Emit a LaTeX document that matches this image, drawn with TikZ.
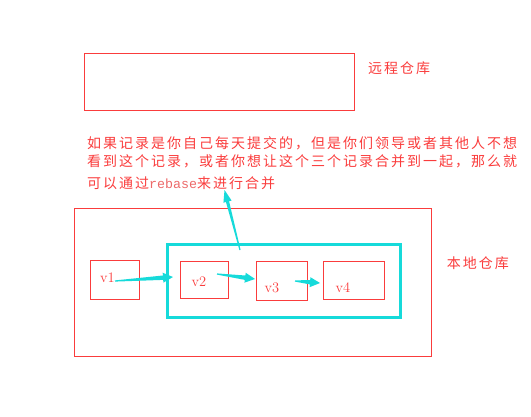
\documentclass[tikz,border=0pt]{standalone}
\usepackage{fontspec}
\newfontfamily\cjkfont[LetterSpace=14.29]{Noto Sans CJK SC}
\newfontfamily\monofont{Liberation Mono}
\usetikzlibrary{calc}
\definecolor{redc}{RGB}{250,60,60}
\definecolor{cyanc}{RGB}{22,218,218}
\definecolor{pinkc}{RGB}{236,105,105}
\newcommand\taperarrow[5]{% from, to, head length, head half width, shaft half width
  \path let \p1=(#1), \p2=(#2), \n1={atan2(\y2-\y1,\x2-\x1)}, \n2={veclen(\x2-\x1,\y2-\y1)} in
    \pgfextra{\xdef\tang{\n1}\xdef\tlen{\n2}};
  \begin{scope}[shift={(#1)},rotate=\tang]
    \fill[cyanc] (0,-0.6) -- (\tlen-#3,-#5) -- (\tlen-#3,-#4) -- (\tlen,0)
      -- (\tlen-#3,#4) -- (\tlen-#3,#5) -- (0,0.6) -- cycle;
  \end{scope}}
\begin{document}
\begin{tikzpicture}[x=1pt,y=-1pt,
  rbox/.style={draw=redc, line width=0.8pt, inner sep=0pt, outer sep=0pt},
  cbox/.style={draw=cyanc, line width=3pt, inner sep=0pt, outer sep=0pt},
  cjktext/.style={text=redc, font=\cjkfont\fontsize{14}{20}\selectfont, inner sep=0pt, anchor=base west},
  vlab/.style={text=redc, font=\fontsize{14.5}{16}\selectfont, inner sep=0pt}]
\useasboundingbox (0,0) rectangle (531,416);
% remote repository
\node[rbox, minimum width=270pt, minimum height=57pt] (remote) at (219,81.5) {};
\node[cjktext] (rlabel) at (368,73.3) {远程仓库};
% explanation text
\node[cjktext] (t1) at (87,148.3) {如果记录是你自己每天提交的，但是你们领导或者其他人不想};
\node[cjktext] (t2) at (87,166.8) {看到这个记录，或者你想让这个三个记录合并到一起，那么就};
\node[cjktext] (t3) at (87,188.3) {可以通过\textcolor{pinkc}{\monofont\fontsize{13.33}{16}\selectfont rebase}来进行合并};
% local repository
\node[rbox, minimum width=357pt, minimum height=148pt] (local) at (252.5,282) {};
\node[cjktext] (llabel) at (446.7,268.8) {本地仓库};
% group box
\node[cbox, minimum width=232.5pt, minimum height=73pt] (group) at (283.75,281) {};
% commits
\node[rbox, minimum width=48.5pt, minimum height=38.5pt] (v1) at (114.75,279.75) {};
\node[rbox, minimum width=47.5pt, minimum height=36.5pt] (v2) at (204.25,279.75) {};
\node[rbox, minimum width=50.5pt, minimum height=38.5pt] (v3) at (281.75,280.75) {};
\node[rbox, minimum width=60.5pt, minimum height=37.5pt] (v4) at (353.75,280.25) {};
\node[vlab] (l1) at (107.5,278) {v1};
\node[vlab] (l2) at (199,282) {v2};
\node[vlab] (l3) at (272,287.5) {v3};
\node[vlab] (l4) at (343,287.5) {v4};
% arrow end points
\coordinate (a1s) at (115,281);
\coordinate (a1e) at (173,277);
\coordinate (a2s) at (217,274);
\coordinate (a2e) at (255,279);
\coordinate (a3s) at (295,281);
\coordinate (a3e) at (320,283);
\coordinate (ups) at (240,250);
\coordinate (upe) at (224.5,190);
\taperarrow{a1s}{a1e}{10}{5}{2.2}
\taperarrow{a2s}{a2e}{10}{5}{2.2}
\taperarrow{a3s}{a3e}{10}{5}{2.2}
\taperarrow{ups}{upe}{12}{4.2}{1.6}
\end{tikzpicture}
\end{document}
